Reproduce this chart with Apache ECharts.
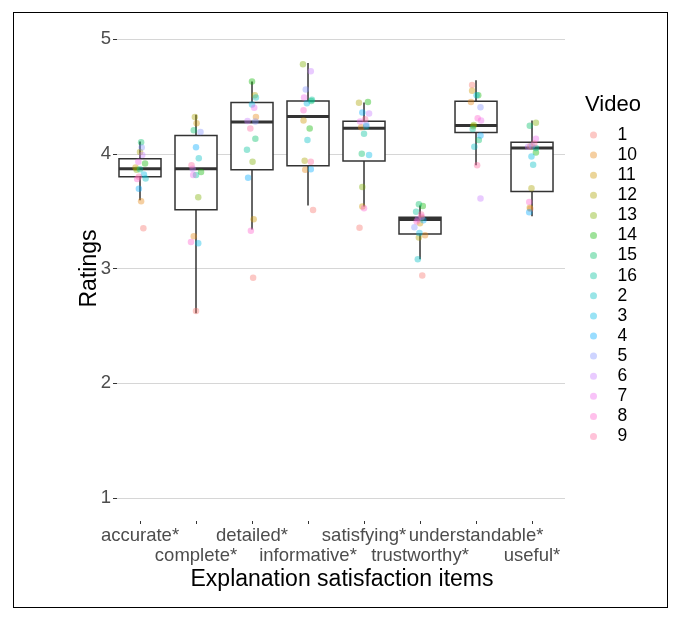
<!DOCTYPE html>
<html>
<head>
<meta charset="utf-8">
<script src="https://cdn.jsdelivr.net/npm/echarts@6/dist/echarts.min.js"></script>
<style>
html,body{margin:0;padding:0;background:#fff;}
#wrap{position:relative;width:683px;height:622px;}
#chart{position:absolute;left:0;top:0;width:683px;height:622px;}
#frame{position:absolute;left:13px;top:12px;width:653px;height:594px;border:1.5px solid #000;pointer-events:none;}
</style>
</head>
<body>
<div id="wrap"><div id="chart"></div><div id="frame"></div></div>
<script>
// ---- data ----
const categories = ['accurate*','complete*','detailed*','informative*','satisfying*','trustworthy*','understandable*','useful*'];
const videos = ['1','10','11','12','13','14','15','16','2','3','4','5','6','7','8','9'];
const videoColors = ['#F8766D','#E68613','#CD9600','#ABA300','#7CAE00','#0CB702','#00BE67','#00C19A','#00BFC4','#00B8E7','#00A9FF','#8494FF','#C77CFF','#ED68ED','#FF61CC','#FF68A1'];

// box stats per category: [min whisker, Q1, median, Q3, max whisker]
const boxAccurate       = [3.594, 3.80, 3.87, 3.957, 4.107];
const boxComplete       = [2.61, 3.513, 3.87, 4.16, 4.34];
const boxDetailed       = [3.34, 3.861, 4.276, 4.446, 4.63];
const boxInformative    = [3.55, 3.896, 4.324, 4.46, 4.79];
const boxSatisfying     = [3.54, 3.936, 4.223, 4.284, 4.446];
const boxTrustworthy    = [3.08, 3.30, 3.426, 3.446, 3.55];
const boxUnderstandable = [3.90, 4.185, 4.246, 4.458, 4.64];
const boxUseful         = [3.455, 3.672, 4.05, 4.10, 4.29];

// ratings per video (order of `videos`) for each item
const accurateVals       = [3.35,3.585,3.88,4.015,3.86,3.915,4.10,3.865,3.785,3.82,3.695,4.055,3.99,3.93,3.78,3.80];
const completeVals       = [2.63,3.28,4.265,4.32,3.62,3.84,4.205,3.815,3.96,3.22,4.056,4.19,3.87,3.815,3.23,3.90];
const detailedVals       = [2.92,4.32,3.43,4.51,3.93,4.63,4.13,4.035,4.49,4.43,3.79,4.28,4.285,4.40,3.33,4.22];
const informativeVals    = [3.51,3.86,4.29,3.94,4.78,4.22,4.46,4.47,4.12,4.44,3.865,4.56,4.72,4.49,4.38,3.93];
const satisfyingVals     = [3.355,4.23,3.54,4.445,3.71,4.45,4.00,4.175,4.24,3.99,4.36,4.255,4.35,4.28,3.525,4.30];
const trustworthyVals    = [2.94,3.29,3.395,3.27,3.44,3.545,3.56,3.495,3.08,3.31,3.42,3.36,3.43,3.45,3.41,3.47];
const understandableVals = [4.60,4.45,4.55,4.24,4.25,4.51,4.12,4.215,4.06,4.51,4.16,4.405,3.61,4.29,4.31,3.90];
const usefulVals         = [3.52,4.065,3.53,3.70,4.27,4.01,4.245,4.05,3.905,3.975,3.49,4.07,4.06,4.13,3.58,4.09];

// horizontal jitter (in category units)
const accurateJit       = [0.06,0.02,-0.08,0,-0.06,0.09,0.02,0,0.10,0.07,-0.02,0.03,0.04,-0.03,-0.05,-0.02];
const completeJit       = [0,-0.04,0.01,-0.02,0.04,0.09,-0.04,0,0.05,0.04,0,0.08,-0.06,-0.05,-0.09,-0.08];
const detailedJit       = [0.02,0.07,0.03,0.05,0.01,0,0.06,-0.09,0.07,0,-0.07,0.06,-0.08,0.04,-0.02,-0.03];
const informativeJit    = [0.09,-0.05,-0.08,-0.06,-0.09,0.03,0.06,0.07,-0.01,-0.02,0.05,-0.04,0.05,-0.07,-0.08,0.05];
const satisfyingJit     = [-0.08,-0.05,-0.03,-0.09,-0.03,0.07,-0.04,0,0.04,0.09,-0.03,0.04,0.09,-0.07,0,0.02];
const trustworthyJit    = [0.04,0.09,0,-0.02,0.03,0.05,-0.02,-0.07,-0.04,-0.01,0.06,-0.10,-0.04,0.03,-0.06,0.02];
const understandableJit = [-0.07,-0.09,-0.07,-0.05,-0.04,0.04,0.05,-0.06,-0.03,0.01,0.08,0.08,0.08,0.09,0.03,0.02];
const usefulJit         = [-0.03,-0.03,-0.04,-0.01,0.07,0.07,-0.04,0.07,0.02,-0.01,-0.05,0,-0.07,0.07,-0.05,0.04];

const yTicks = [1,2,3,4,5];

// ---- build ----
const boxes = [boxAccurate,boxComplete,boxDetailed,boxInformative,boxSatisfying,boxTrustworthy,boxUnderstandable,boxUseful];
const vals = [accurateVals,completeVals,detailedVals,informativeVals,satisfyingVals,trustworthyVals,understandableVals,usefulVals];
const jits = [accurateJit,completeJit,detailedJit,informativeJit,satisfyingJit,trustworthyJit,understandableJit,usefulJit];

const boxData = boxes.map((b,i)=>[i].concat(b));
const FONT = '"Liberation Sans", Arial, sans-serif';

const series = [{
  type:'custom',
  xAxisIndex:0, yAxisIndex:0,
  z:1,
  data: boxData,
  encode:{x:0, y:[1,2,3,4,5]},
  renderItem(params, api){
    const x = api.value(0);
    const pMin = api.coord([x, api.value(1)]);
    const pQ1 = api.coord([x, api.value(2)]);
    const pMed = api.coord([x, api.value(3)]);
    const pQ3 = api.coord([x, api.value(4)]);
    const pMax = api.coord([x, api.value(5)]);
    const half = api.size([0.75, 0])[0] / 2;
    const cx = pMed[0];
    const st = {stroke:'#333333', lineWidth:1.5};
    return {type:'group', children:[
      {type:'line', shape:{x1:cx,y1:pMin[1],x2:cx,y2:pQ1[1]}, style:st},
      {type:'line', shape:{x1:cx,y1:pQ3[1],x2:cx,y2:pMax[1]}, style:st},
      {type:'rect', shape:{x:cx-half,y:pQ3[1],width:2*half,height:pQ1[1]-pQ3[1]}, style:{fill:'#ffffff',stroke:'#333333',lineWidth:1.5}},
      {type:'line', shape:{x1:cx-half,y1:pMed[1],x2:cx+half,y2:pMed[1]}, style:{stroke:'#333333',lineWidth:3}}
    ]};
  },
  silent:true
}];

videos.forEach((v, k) => {
  series.push({
    type:'scatter',
    name: v,
    xAxisIndex:0, yAxisIndex:0,
    z:2,
    symbol:'circle',
    symbolSize:6.5,
    itemStyle:{color: videoColors[k], opacity:0.4},
    data: categories.map((c,i)=>[i + jits[i][k], vals[i][k]])
  });
});

const chart = echarts.init(document.getElementById('chart'));
chart.setOption({
  backgroundColor:'#ffffff',
  animation:false,
  textStyle:{fontFamily:FONT},
  title:{text:'Video', left:580, top:89, textStyle:{fontSize:22, fontWeight:'normal', color:'#000', fontFamily:FONT}},
  legend:{
    orient:'vertical', left:585, top:121,
    data: videos,
    icon:'circle', itemWidth:38, itemHeight:7, itemGap:2.1,
    textStyle:{fontSize:17.5, color:'#000', fontFamily:FONT},
    selectedMode:false
  },
  grid:[
    {left:117, right:118, top:39, bottom:124, containLabel:false},
    {left:112, right:123, top:39, bottom:124, containLabel:false}
  ],
  xAxis:[{
    type:'value', gridIndex:0, min:-0.4107, max:7.589,
    show:true,
    axisLine:{show:false}, axisTick:{show:false}, axisLabel:{show:false},
    splitLine:{show:false}
  },{
    type:'category', gridIndex:1, data:categories, boundaryGap:true,
    offset:23,
    name:'Explanation satisfaction items', nameLocation:'middle', nameGap:47, nameMoveOverlap:false,
    nameTextStyle:{fontSize:23, color:'#000', fontFamily:FONT, padding:[0,0,0,12]},
    axisLine:{show:false},
    axisTick:{show:true, length:3, alignWithLabel:true, interval:0, lineStyle:{color:'#333', width:1}},
    axisLabel:{
      interval:0, margin:5, fontSize:18.5, color:'#4d4d4d', lineHeight:20, fontFamily:FONT,
      formatter:(v, i)=> (i%2===1?'\n':'') + v
    },
    splitLine:{show:false}
  }],
  yAxis:[{
    type:'value', gridIndex:0, min:1, max:5, interval:1,
    name:'Ratings', nameLocation:'middle', nameGap:16, nameMoveOverlap:false,
    nameTextStyle:{fontSize:23, color:'#000', fontFamily:FONT},
    axisLine:{show:false, onZero:false},
    axisTick:{show:true, length:4, lineStyle:{color:'#333', width:1}},
    axisLabel:{fontSize:18.5, color:'#4d4d4d', margin:6, fontFamily:FONT,
      formatter:(v)=> yTicks.includes(v) ? String(v) : ''},
    splitLine:{show:true, lineStyle:{color:'#d6d6d6', width:1.2}}
  },{
    type:'value', gridIndex:1, min:1, max:5, show:false
  }],
  series
});
</script>
</body>
</html>
